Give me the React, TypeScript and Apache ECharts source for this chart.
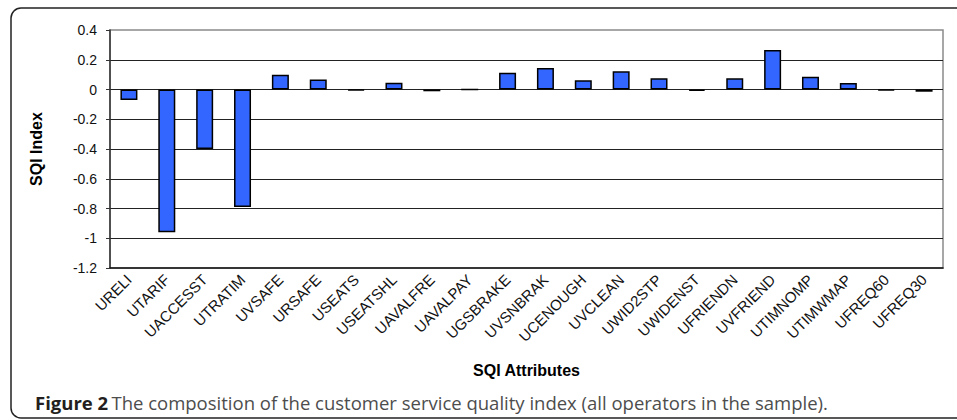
import React, { useEffect, useRef } from "react";
import * as echarts from "echarts";

const categories = [
  "URELI", "UTARIF", "UACCESST", "UTRATIM", "UVSAFE", "URSAFE", "USEATS",
  "USEATSHL", "UAVALFRE", "UAVALPAY", "UGSBRAKE", "UVSNBRAK", "UCENOUGH",
  "UVCLEAN", "UWID2STP", "UWIDENST", "UFRIENDN", "UVFRIEND", "UTIMNOMP",
  "UTIMWMAP", "UFREQ60", "UFREQ30",
];
const values = [
  -0.07, -0.96, -0.4, -0.79, 0.1, 0.068, -0.006, 0.046, -0.012, 0, 0.113,
  0.145, 0.062, 0.122, 0.075, -0.01, 0.075, 0.265, 0.086, 0.044, -0.006, -0.015,
];
const yMin = -1.2;
const yMax = 0.4;
const yStep = 0.2;

const FONT = "Liberation Sans";

export default function App() {
  const ref = useRef<HTMLDivElement>(null);
  useEffect(() => {
    if (!ref.current) return;
    const chart = echarts.init(ref.current, null, { renderer: "svg" });
    chart.setOption({
      animation: false,
      backgroundColor: "#fff",
      grid: {
        left: 110,
        right: 14,
        top: 30,
        bottom: 152,
        show: true,
        borderColor: "#8a8a8a",
        borderWidth: 1.5,
      },
      xAxis: {
        type: "category",
        data: categories,
        name: "SQI Attributes",
        nameLocation: "middle",
        nameGap: 94,
        nameTextStyle: {
          fontFamily: FONT,
          fontWeight: "bold",
          fontSize: 16,
          color: "#000",
        },
        axisLine: { show: true, onZero: false, lineStyle: { color: "#111", width: 1.5 } },
        axisTick: { show: false },
        axisLabel: {
          interval: 0,
          rotate: 45,
          margin: 9,
          fontFamily: FONT,
          fontSize: 15,
          color: "#111",
        },
      },
      yAxis: {
        type: "value",
        min: yMin,
        max: yMax,
        interval: yStep,
        name: "SQI Index",
        nameLocation: "middle",
        nameGap: 66,
        nameTextStyle: {
          fontFamily: FONT,
          fontWeight: "bold",
          fontSize: 16,
          color: "#000",
        },
        axisLine: { show: true, lineStyle: { color: "#333", width: 1.5 } },
        axisTick: { show: true, length: 4, inside: false, lineStyle: { color: "#333" } },
        axisLabel: {
          margin: 13,
          fontFamily: FONT,
          fontSize: 14,
          color: "#111",
          formatter: (v: number) => String(Math.round(v * 10) / 10),
        },
        splitLine: {
          show: true,
          showMaxLine: false,
          showMinLine: false,
          lineStyle: { color: "#222", width: 1 },
        },
      },
      series: [
        {
          type: "bar",
          data: values,
          barWidth: 17,
          itemStyle: {
            color: "#3366ff",
            borderColor: "#000",
            borderWidth: 1.5,
          },
        },
      ],
      graphic: [
        {
          type: "rect",
          shape: { x: 11, y: 8, width: 980, height: 410, r: 10 },
          style: { fill: "none", stroke: "#222", lineWidth: 1.5 },
          silent: true,
        },
        {
          type: "text",
          x: 35,
          y: 402,
          style: {
            rich: {
              b: {
                fontFamily: "Open Sans",
                fontWeight: "bold",
                fontSize: 18.5,
                fill: "#231f20",
              },
              n: {
                fontFamily: "Open Sans",
                fontSize: 18.5,
                fill: "#4d4d4d",
              },
            },
            text: "{b|Figure 2} {n|The composition of the customer service quality index (all operators in the sample).}",
            verticalAlign: "middle",
          },
        },
      ],
    });
    return () => chart.dispose();
  }, []);
  return (
    <div
      ref={ref}
      style={{ position: "fixed", left: 0, top: 0, width: 957, height: 420 }}
    />
  );
}
